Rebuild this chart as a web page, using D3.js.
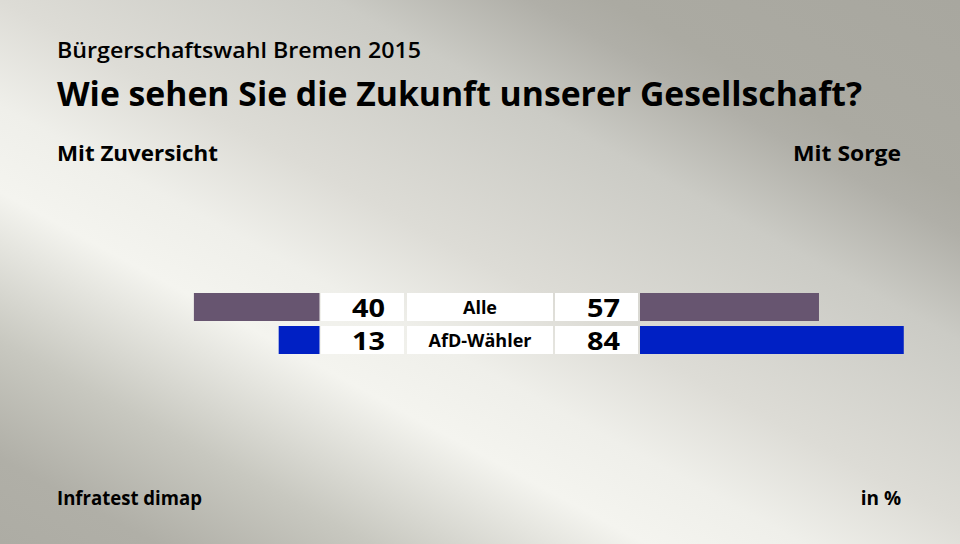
<!DOCTYPE html>
<html>
<head>
<meta charset="utf-8">
<script src="https://cdnjs.cloudflare.com/ajax/libs/d3/7.8.5/d3.min.js"></script>
<style>
  html, body { margin: 0; padding: 0; }
  body { width: 960px; height: 544px; overflow: hidden; }
  text { font-family: "Open Sans", "Noto Sans", sans-serif; fill: #000; }
</style>
</head>
<body>
<script>
// data
var categories = ["Alle", "AfD-Wähler"],
	zuversicht = [40, 13],
	sorge = [57, 84],
	colors = ["#675570", "#0020c4"];

var w = 960,
	h = 544;

var svg = d3.select("body")
	.append("svg")
	.attr("width", w)
	.attr("height", h);

// background gradient
var defs = svg.append("defs");
var grad = defs.append("linearGradient")
	.attr("id", "bg")
	.attr("gradientUnits", "userSpaceOnUse")
	.attr("x1", 0).attr("y1", 544)
	.attr("x2", 448).attr("y2", -279);
[[0, "#adaca4"], [0.08, "#b0afa7"], [0.19, "#c8c8c0"], [0.33, "#f4f4ef"],
 [0.41, "#efefea"], [0.51, "#dddcd6"], [0.68, "#cbcbc5"], [0.78, "#b0afa8"],
 [0.82, "#abaaa2"], [1, "#a8a79f"]]
	.forEach(function(s){
		grad.append("stop").attr("offset", s[0]).attr("stop-color", s[1]);
	});

svg.append("rect")
	.attr("width", w)
	.attr("height", h)
	.attr("fill", "url(#bg)");

// titles
svg.append("text")
	.attr("x", 57).attr("y", 58)
	.style("font-size", "21px").style("font-weight", 600)
	.attr("textLength", 364).attr("lengthAdjust", "spacingAndGlyphs")
	.text("Bürgerschaftswahl Bremen 2015");

svg.append("text")
	.attr("x", 57).attr("y", 106)
	.style("font-size", "34px").style("font-weight", 700)
	.attr("textLength", 805).attr("lengthAdjust", "spacingAndGlyphs")
	.text("Wie sehen Sie die Zukunft unserer Gesellschaft?");

svg.append("text")
	.attr("x", 57).attr("y", 161)
	.style("font-size", "21px").style("font-weight", 700)
	.attr("textLength", 161).attr("lengthAdjust", "spacingAndGlyphs")
	.text("Mit Zuversicht");

svg.append("text")
	.attr("x", 793).attr("y", 161)
	.style("font-size", "21px").style("font-weight", 700)
	.attr("textLength", 108).attr("lengthAdjust", "spacingAndGlyphs")
	.text("Mit Sorge");

svg.append("text")
	.attr("x", 57).attr("y", 505)
	.style("font-size", "19px").style("font-weight", 700)
	.attr("textLength", 145).attr("lengthAdjust", "spacingAndGlyphs")
	.text("Infratest dimap");

svg.append("text")
	.attr("x", 901).attr("y", 505)
	.attr("text-anchor", "end")
	.style("font-size", "19px").style("font-weight", 700)
	.text("in %");

// scales
var x = d3.scaleLinear().domain([0, 100]).range([0, 314]);
var y = d3.scaleBand()
	.domain(categories)
	.range([293, 354])
	.paddingInner(0.152)
	.paddingOuter(0);

var leftEdge = 319.5,
	rightEdge = 640;

var rows = svg.selectAll("g.row")
	.data(categories)
	.enter()
	.append("g")
	.attr("class", "row")
	.attr("transform", (d) => "translate(0," + y(d) + ")");

var bh = y.bandwidth();

// left bars
rows.append("rect")
	.attr("x", (d, i) => leftEdge - x(zuversicht[i]))
	.attr("width", (d, i) => x(zuversicht[i]))
	.attr("height", bh)
	.attr("fill", (d, i) => colors[i]);

// right bars
rows.append("rect")
	.attr("x", rightEdge)
	.attr("width", (d, i) => x(sorge[i]))
	.attr("height", bh)
	.attr("fill", (d, i) => colors[i]);

// white boxes
[[321, 83], [407, 146], [555, 83]].forEach(function(b){
	rows.append("rect")
		.attr("x", b[0])
		.attr("width", b[1])
		.attr("height", bh)
		.attr("fill", "#fff");
});

// values and labels
rows.append("text")
	.attr("x", 352)
	.attr("y", bh / 2 + 9.5)
	.style("font-size", "25px").style("font-weight", 700)
	.attr("textLength", 33).attr("lengthAdjust", "spacingAndGlyphs")
	.text((d, i) => zuversicht[i]);

rows.append("text")
	.attr("x", 587)
	.attr("y", bh / 2 + 9.5)
	.style("font-size", "25px").style("font-weight", 700)
	.attr("textLength", 33).attr("lengthAdjust", "spacingAndGlyphs")
	.text((d, i) => sorge[i]);

rows.append("text")
	.attr("x", 480)
	.attr("y", bh / 2 + 7)
	.attr("text-anchor", "middle")
	.style("font-size", "18px").style("font-weight", 700)
	.text((d) => d);
</script>
</body>
</html>
